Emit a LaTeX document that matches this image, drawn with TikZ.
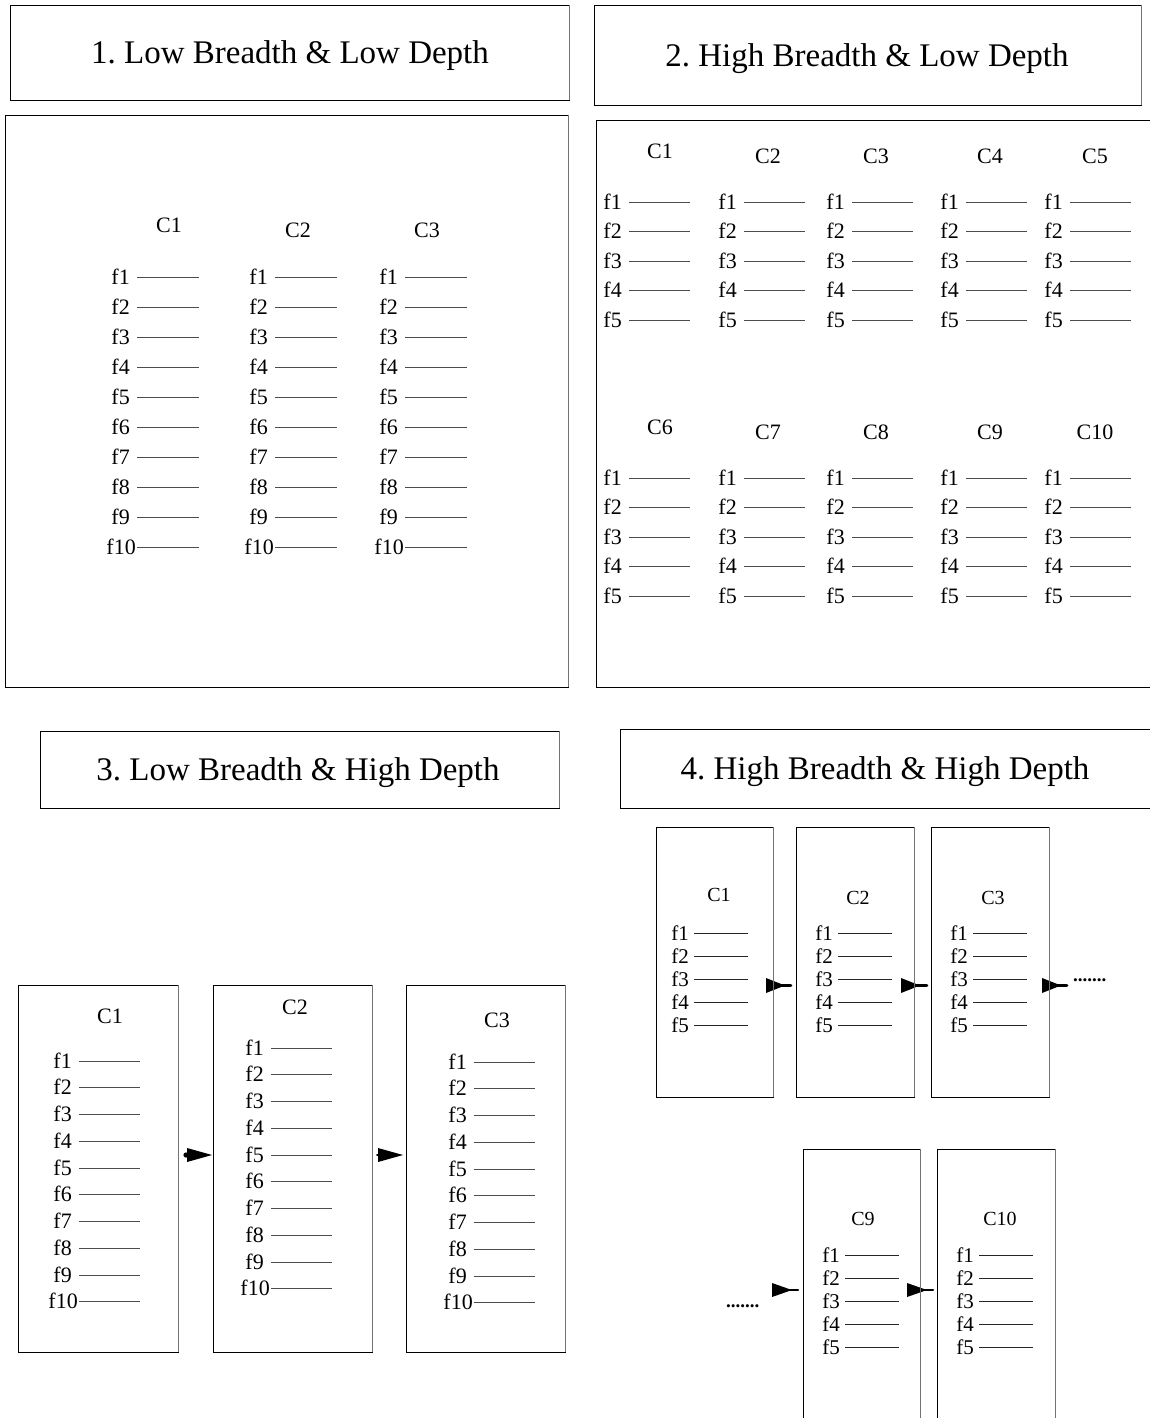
\documentclass[tikz,border=0pt]{standalone}
\usepackage{fontspec}
\setmainfont{Liberation Serif}
\frenchspacing
\begin{document}
\begin{tikzpicture}[x=1pt,y=-1pt,
  box/.style={draw=black, line width=0.9pt, inner sep=0pt, outer sep=0pt, anchor=north west},
  frame/.style={draw=black, line width=0.9pt},
  redge/.style={draw=black!55, line width=1pt},
  ttl/.style={font=\fontsize{33}{40}\selectfont, inner sep=0pt},
  clab/.style={font=\fontsize{22}{26}\selectfont, inner sep=0pt, anchor=base},
  flab/.style={font=\fontsize{22}{26}\selectfont, inner sep=0pt, anchor=base east},
  clabs/.style={font=\fontsize{20}{24}\selectfont, inner sep=0pt, anchor=base},
  flabs/.style={font=\fontsize{21}{25}\selectfont, inner sep=0pt, anchor=base east},
  fline/.style={draw=black!70, line width=0.9pt},
  ahead/.style={fill=black},
  astub/.style={draw=black, line width=2.6pt, line cap=round},
  dots/.style={font=\bfseries\fontsize{19}{23}\selectfont, inner sep=0pt, anchor=base west},
]
\useasboundingbox (0,0) rectangle (1150,1418);
\clip (0,0) rectangle (1150,1418);

% ---------- titles ----------
\node[box, minimum width=559pt, minimum height=95pt] (t1) at (10,5) {};
\node[ttl] (t1txt) at (290,56) {1. Low Breadth \& Low Depth};
\node[box, minimum width=547pt, minimum height=100pt] (t2) at (594,5) {};
\node[ttl] (t2txt) at (867,59) {2. High Breadth \& Low Depth};
\node[box, minimum width=519pt, minimum height=77pt] (t3) at (40,731) {};
\node[ttl] (t3txt) at (298,773) {3. Low Breadth \& High Depth};
\draw[frame] (1150,729) -- (620,729) -- (620,808) -- (1150,808);
\node[ttl] (t4txt) at (885,772) {4. High Breadth \& High Depth};

% ---------- panel 1 ----------
\node[box, minimum width=563pt, minimum height=572pt] (p1) at (5,115) {};
\foreach \xl [count=\c] in {137,275,405} {
  \foreach \i in {1,...,10} {
    \pgfmathsetmacro\yy{277+(\i-1)*30}
    \pgfmathsetmacro\gp{ifthenelse(\i==10,1,7)}
    \node[flab] (p1c\c f\i) at (\xl-\gp,\yy+7) {f\i};
    \draw[fline] (\xl,\yy) -- ++(62,0);
  }
}
\node[clab] (p1C1) at (169,232.5) {C1};
\node[clab] (p1C2) at (298,237.5) {C2};
\node[clab] (p1C3) at (427,237.5) {C3};

% ---------- panel 2 ----------
\draw[frame] (1150,120) -- (596,120) -- (596,687) -- (1150,687);
\foreach \xl [count=\c] in {629,744,852,966,1070} {
  \foreach \i in {1,...,5} {
    \pgfmathsetmacro\yy{202+(\i-1)*29.5}
    \node[flab] (p2a\c f\i) at (\xl-7,\yy+7) {f\i};
    \draw[fline] (\xl,\yy) -- ++(61,0);
    \pgfmathsetmacro\yb{478+(\i-1)*29.5}
    \node[flab] (p2b\c f\i) at (\xl-7,\yb+7) {f\i};
    \draw[fline] (\xl,\yb) -- ++(61,0);
  }
}
\foreach \cx/\cb/\n in {660/158/1,768/163/2,876/163/3,990/163/4,1095/163/5,
                        660/434.5/6,768/439.5/7,876/439.5/8,990/439.5/9,1095/439.5/10} {
  \node[clab] (p2C\n) at (\cx,\cb) {C\n};
}

% ---------- panel 3 ----------
\node[box, minimum width=160pt, minimum height=367pt] (p3b1) at (18,985) {};
\node[box, minimum width=159pt, minimum height=367pt] (p3b2) at (213,985) {};
\node[box, minimum width=159pt, minimum height=367pt] (p3b3) at (406,985) {};
\foreach \xl/\yo [count=\c] in {79/1061,271/1048,474/1062} {
  \foreach \i in {1,...,10} {
    \pgfmathsetmacro\yy{\yo+(\i-1)*26.75}
    \pgfmathsetmacro\gp{ifthenelse(\i==10,1,7)}
    \node[flab] (p3c\c f\i) at (\xl-\gp,\yy+7) {f\i};
    \draw[fline] (\xl,\yy) -- ++(61,0);
  }
}
\node[clab] (p3C1) at (110,1023) {C1};
\node[clab] (p3C2) at (295,1014) {C2};
\node[clab] (p3C3) at (497,1027) {C3};
% arrows
\fill[ahead] (186,1155) circle (2.6);
\fill[ahead] (187,1148) -- (212,1155) -- (187,1162) -- cycle;
\draw[astub, line width=2pt] (186,1155) -- (192,1155);
\fill[ahead] (378,1148) -- (403,1155) -- (378,1162) -- cycle;
\draw[astub, line width=2pt] (377,1155) -- (382,1155);

% ---------- panel 4 ----------
\node[box, minimum width=117pt, minimum height=270pt] (q1) at (656,827) {};
\node[box, minimum width=118pt, minimum height=270pt] (q2) at (796,827) {};
\node[box, minimum width=118pt, minimum height=270pt] (q3) at (931,827) {};
\draw[frame] (803,1418) -- (803,1149) -- (920,1149) -- (920,1418);
\draw[frame] (937,1418) -- (937,1149) -- (1055,1149) -- (1055,1418);
\coordinate (q9ne) at (920,1149);
\coordinate (q10ne) at (1055,1149);
\foreach \xl/\yo [count=\c] in {694/933,838/933,973/933,845/1255,979/1255} {
  \foreach \i in {1,...,5} {
    \pgfmathsetmacro\yy{\yo+(\i-1)*23.1}
    \node[flabs] (q\c f\i) at (\xl-5,\yy+7) {f\i};
    \draw[fline, draw=black!85] (\xl,\yy) -- ++(54,0);
  }
}
\node[clabs] (qC1) at (719,901) {C1};
\node[clabs] (qC2) at (858,904) {C2};
\node[clabs] (qC3) at (993,904) {C3};
\node[clabs] (qC9) at (863,1225) {C9};
\node[clabs] (qC10) at (1000,1225) {C10};
% arrows
\fill[ahead] (766,978) -- (785,985.5) -- (766,993) -- cycle;
\draw[astub] (778,985.5) -- (791,985.5);
\fill[ahead] (901,978) -- (920,985.5) -- (901,993) -- cycle;
\draw[astub] (913,985.5) -- (927,985.5);
\fill[ahead] (1042,978) -- (1061,985.5) -- (1042,993) -- cycle;
\draw[astub] (1054,985.5) -- (1067,985.5);
\node[dots] (dotsA) at (1073,981) {.......};
\fill[ahead] (772,1283) -- (792,1290) -- (772,1297) -- cycle;
\draw[astub] (785,1290) -- (798,1290);
\fill[ahead] (907,1283) -- (927,1290) -- (907,1297) -- cycle;
\draw[astub] (920,1290) -- (933,1290);
\node[dots] (dotsB) at (726,1307) {.......};

% ---------- gray right edges ----------
\foreach \b in {t1,t2,t3,p1,p3b1,p3b2,p3b3,q1,q2,q3} {
  \draw[redge] (\b.north east) -- (\b.south east);
}
\draw[redge] (q9ne) -- (920,1418);
\draw[redge] (q10ne) -- (1055,1418);
\end{tikzpicture}
\end{document}
